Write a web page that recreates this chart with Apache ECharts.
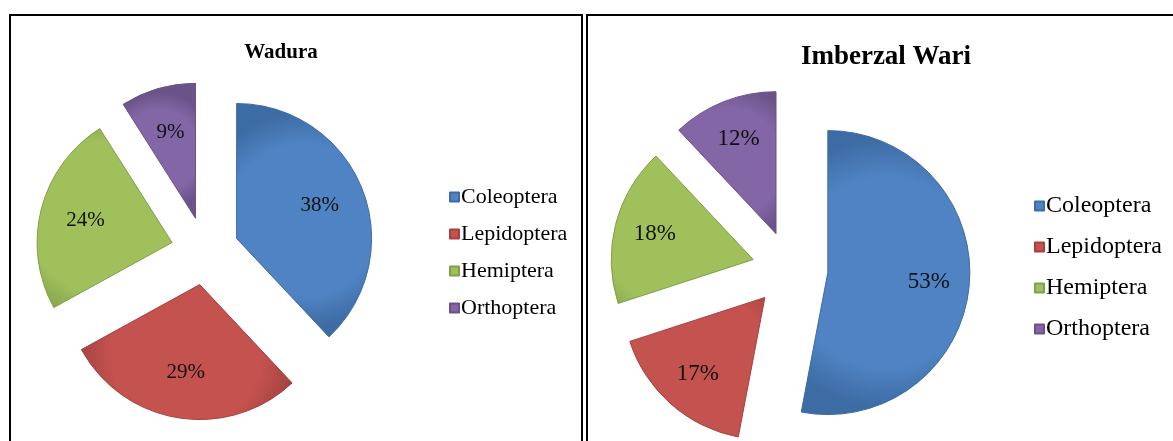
<!DOCTYPE html>
<html>
<head>
<meta charset="utf-8">
<script src="https://cdn.jsdelivr.net/npm/echarts@6/dist/echarts.min.js"></script>
<style>
    html, body { margin: 0; padding: 0; background: #fff; }
    #chart { width: 1173px; height: 441px; }
</style>
</head>
<body>
<div id="chart"></div>
<script>
// 类别与两地的百分比
var categories = ['Coleoptera', 'Lepidoptera', 'Hemiptera', 'Orthoptera'];
var waduraValues = [38, 29, 24, 9];
var imberzalValues = [53, 17, 18, 12];
var titles = ['Wadura', 'Imberzal Wari'];

var sliceColors = ['#4f83c3', '#c4524f', '#9fc05b', '#8266a6'];
var sliceBorders = ['#3d6ba3', '#a34240', '#829f4a', '#6a5388'];
var FONT = '"Liberation Serif", "Times New Roman", serif';

/** 组装饼图数据，全部分离显示 */
function buildData(values, transparent) {
    return categories.map(function (name, i) {
        return {
            name: name,
            value: values[i],
            selected: true,
            itemStyle: transparent ? { color: 'rgba(0,0,0,0)', borderWidth: 0 } : {
                color: new echarts.graphic.RadialGradient(0.5, 0.5, 0.8, [
                    { offset: 0, color: sliceColors[i] },
                    { offset: 0.7, color: sliceColors[i] },
                    { offset: 1, color: sliceBorders[i] }
                ]),
                borderColor: sliceBorders[i],
                borderWidth: 1
            }
        };
    });
}

function pieSeries(values, center, radius, offset) {
    return {
        type: 'pie',
        center: center,
        radius: [0, radius],
        startAngle: 90,
        clockwise: true,
        selectedMode: 'multiple',
        selectedOffset: offset,
        silent: true,
        label: { show: false },
        labelLine: { show: false },
        emphasis: { disabled: true },
        data: buildData(values, false)
    };
}

// 透明叠加层，只用来把百分比标签放到更靠外的位置
function labelSeries(values, center, radius, inner, offset, fontSize) {
    return {
        type: 'pie',
        center: center,
        radius: [inner, radius],
        startAngle: 90,
        clockwise: true,
        selectedMode: 'multiple',
        selectedOffset: offset,
        silent: true,
        legendHoverLink: false,
        label: {
            show: true,
            position: 'inside',
            formatter: '{c}%',
            color: '#111',
            fontFamily: FONT,
            fontSize: fontSize
        },
        labelLine: { show: false },
        emphasis: { disabled: true },
        data: buildData(values, true)
    };
}

function legendOf(left, top, fontSize, lineHeight, gap) {
    return {
        orient: 'vertical',
        left: left,
        top: top,
        icon: 'rect',
        itemWidth: 9,
        itemHeight: 9,
        itemGap: gap,
        selectedMode: false,
        data: categories,
        textStyle: {
            fontFamily: FONT,
            fontSize: fontSize,
            lineHeight: lineHeight,
            color: '#000',
            padding: [0, 0, 0, -3]
        }
    };
}

var chart = echarts.init(document.getElementById('chart'));
var option = {
    animation: false,
    backgroundColor: '#fff',
    legend: [
        legendOf(444, 180, 22, 24, 13),
        legendOf(1029, 188, 24, 26, 15)
    ],
    series: [
        pieSeries(waduraValues, [205, 251], 135, 34),
        pieSeries(imberzalValues, [790, 269], 142, 38),
        labelSeries(waduraValues, [205, 251], 135, 38, 34, 21),
        labelSeries(imberzalValues, [790, 269], 142, 55, 38, 23)
    ],
    graphic: [
        {
            type: 'rect',
            shape: { x: 10, y: 15, width: 572, height: 460 },
            style: { fill: 'none', stroke: '#000', lineWidth: 2 }
        },
        {
            type: 'rect',
            shape: { x: 587, y: 15, width: 600, height: 460 },
            style: { fill: 'none', stroke: '#000', lineWidth: 2 }
        },
        {
            type: 'text',
            x: 281, y: 53,
            style: {
                text: titles[0],
                font: 'bold 21px ' + FONT,
                fill: '#000',
                textAlign: 'center',
                textVerticalAlign: 'middle'
            }
        },
        {
            type: 'text',
            x: 886, y: 57,
            style: {
                text: titles[1],
                font: 'bold 27px ' + FONT,
                fill: '#000',
                textAlign: 'center',
                textVerticalAlign: 'middle'
            }
        }
    ]
};
chart.setOption(option);
</script>
</body>
</html>
